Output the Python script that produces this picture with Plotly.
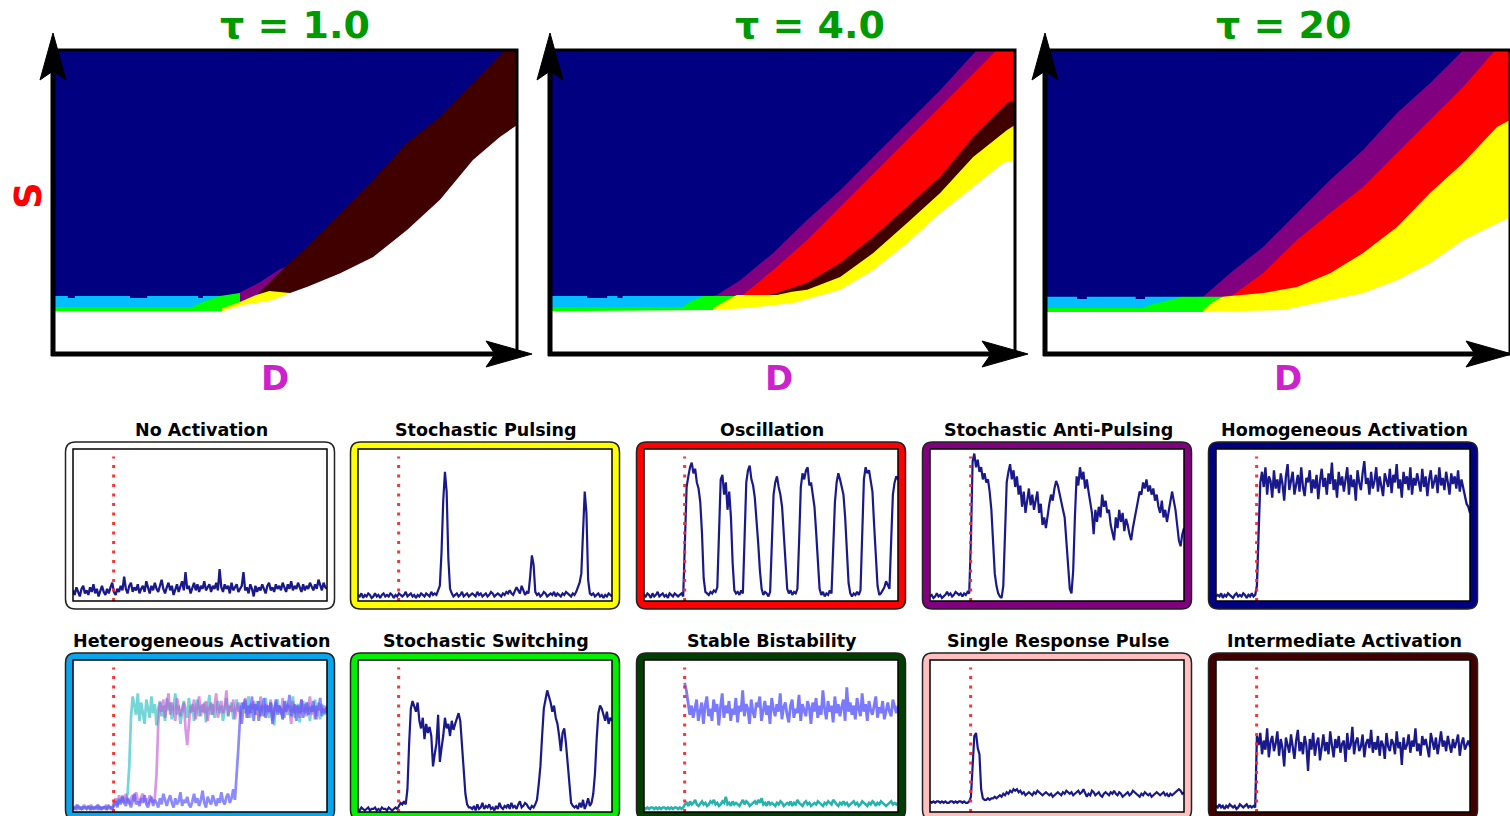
import plotly.graph_objects as go

W, H = 1510, 816

# ---------------------------------------------------------------------------
# Phase diagrams: upper boundary (D, S) of each behaviour region, both in %.
# Regions are painted top-down; everything above the first one is
# homogeneous activation (navy).
# ---------------------------------------------------------------------------
tau1_purple = [(39.5, 19.6), (42.0, 21.5), (44.5, 23.5), (47.0, 26.0), (49.0, 28.0), (50.0, 28.5)]
tau1_darkred = [(44.2, 20.0), (47.4, 24.8), (50.0, 28.5), (54.7, 35.2), (61.9, 46.4), (69.0, 57.2),
                (76.3, 69.4), (83.4, 78.0), (90.5, 89.1), (97.4, 100.0), (100.0, 100.0)]
tau1_cyan = [(0.0, 19.1), (3.2, 19.1), (3.2, 18.4), (4.7, 18.4), (4.7, 19.1), (16.6, 19.1), (16.6, 18.4),
             (20.3, 18.4), (20.3, 19.1), (31.3, 19.1), (31.3, 18.4), (32.3, 18.4), (32.3, 19.1), (36.0, 19.1)]
tau1_green = [(0.0, 15.5), (30.0, 15.5), (32.3, 17.1), (36.0, 19.1), (40.3, 20.1)]
tau1_yellow = [(36.4, 15.0), (40.3, 17.1), (43.8, 19.4), (46.6, 20.7), (51.1, 20.1)]
tau1_white = [(0.0, 14.1), (36.4, 14.1), (41.0, 16.1), (47.4, 17.8), (51.1, 20.1), (54.7, 22.0), (61.9, 26.6),
              (69.0, 31.9), (76.3, 40.8), (83.4, 50.7), (90.5, 63.8), (96.3, 71.4), (100.0, 75.3)]

tau4_purple = [(35.0, 19.1), (35.9, 19.4), (40.9, 24.3), (48.0, 33.2), (55.3, 44.1), (62.4, 53.9),
               (69.5, 64.8), (76.8, 76.0), (83.9, 86.8), (91.8, 100.0), (100.0, 100.0)]
tau4_red = [(41.5, 19.4), (48.0, 27.6), (55.3, 37.5), (62.4, 48.4), (69.5, 59.5), (76.8, 70.4),
            (83.9, 81.3), (91.0, 92.4), (96.1, 100.0), (100.0, 100.0)]
tau4_darkred = [(47.0, 19.4), (48.8, 20.1), (55.3, 23.4), (62.4, 29.9), (69.5, 38.5), (76.8, 48.4),
                (83.9, 58.2), (91.0, 71.4), (98.3, 82.6), (100.0, 83.6)]
tau4_cyan = [(0.0, 19.1), (8.0, 19.1), (8.0, 18.4), (12.3, 18.4), (12.3, 19.1), (14.5, 19.1), (14.5, 18.4),
             (15.6, 18.4), (15.6, 19.1), (33.0, 19.1)]
tau4_green = [(0.0, 15.5), (28.6, 15.5), (30.0, 17.1), (33.0, 19.1), (39.8, 19.1)]
tau4_yellow = [(35.1, 15.1), (38.1, 17.8), (40.2, 19.4), (48.8, 19.4), (52.0, 20.5), (55.3, 21.1),
               (62.4, 25.3), (69.5, 33.2), (76.8, 43.1), (83.9, 53.0), (91.0, 64.8), (98.3, 73.7), (100.0, 75.3)]
tau4_white = [(0.0, 14.1), (35.1, 14.5), (42.4, 15.1), (52.3, 16.8), (62.4, 21.1), (69.5, 27.6),
              (76.8, 36.5), (83.9, 46.4), (91.0, 54.9), (97.4, 62.8), (100.0, 63.8)]

tau20_purple = [(33.0, 18.8), (34.0, 18.8), (39.8, 26.6), (46.9, 35.2), (54.2, 46.4), (61.3, 57.2),
                (68.4, 67.1), (75.7, 79.3), (82.8, 89.1), (89.2, 99.0), (90.0, 100.0), (100.0, 100.0)]
tau20_red = [(38.3, 18.8), (40.4, 19.4), (46.9, 26.6), (54.2, 37.5), (61.3, 46.4), (68.4, 54.9),
             (75.7, 66.1), (82.8, 77.0), (89.9, 87.8), (96.3, 99.0), (97.0, 100.0), (100.0, 100.0)]
tau20_cyan = [(0.0, 18.8), (6.9, 18.8), (6.9, 18.1), (9.0, 18.1), (9.0, 18.8), (19.5, 18.8), (19.5, 18.1),
              (21.5, 18.1), (21.5, 18.8), (29.7, 18.8)]
tau20_green = [(0.0, 15.1), (21.0, 15.1), (22.6, 16.1), (26.9, 17.8), (29.7, 18.8), (38.3, 18.8)]
tau20_yellow = [(34.0, 14.5), (36.1, 17.1), (38.3, 18.8), (46.9, 20.1), (54.2, 22.0), (61.3, 26.6),
                (68.4, 33.2), (75.7, 41.8), (82.8, 53.0), (89.9, 62.8), (97.2, 74.7), (100.0, 77.0)]
tau20_white = [(0.0, 13.8), (34.0, 13.8), (51.2, 14.5), (61.3, 17.8), (68.4, 20.1), (75.7, 24.3),
               (82.8, 29.9), (89.9, 37.5), (95.7, 41.8), (100.0, 45.1)]

tau_labels = ["τ = 1.0", "τ = 4.0", "τ = 20"]

# ---------------------------------------------------------------------------
# Representative time courses (activity in %, time in % of the window).
# ---------------------------------------------------------------------------
STIM_T = 16

no_activation = [7, 4, 9, 6, 3, 8, 10, 5, 7, 4, 9, 6, 11, 5, 8, 3, 7, 10, 6, 4,
                 8, 5, 9, 12, 6, 4, 8, 6, 10, 7, 16, 8, 5, 10, 12, 6, 9, 7, 11, 5,
                 8, 10, 6, 13, 9, 5, 10, 7, 12, 8, 6, 11, 14, 8, 5, 9, 12, 7, 10, 4,
                 8, 11, 6, 9, 13, 7, 19, 8, 10, 5, 9, 12, 7, 11, 6, 10, 8, 13, 7, 9,
                 11, 6, 10, 8, 12, 7, 21, 9, 6, 11, 8, 10, 5, 12, 7, 9, 11, 6, 8, 10,
                 19, 7, 9, 5, 11, 8, 3, 10, 6, 9, 7, 11, 8, 5, 10, 12, 7, 9, 6, 11,
                 8, 10, 7, 12, 9, 6, 11, 8, 13, 7, 10, 8, 12, 9, 6, 11, 7, 10, 8, 12,
                 9, 7, 11, 8, 14, 10, 7, 12, 9, 8]

stochastic_pulsing = [4, 3, 5, 2, 4, 3, 5, 4, 2, 3, 5, 3, 4, 2, 4, 5, 3, 4, 3, 5,
                      4, 2, 4, 3, 5, 4, 3, 4, 6, 3, 4, 5, 3, 4, 2, 4, 3, 5, 4, 3,
                      5, 4, 3, 6, 4, 5, 4, 7,
                      10, 32, 66, 85, 72, 28, 8,
                      5, 3, 4, 5, 3, 4, 6, 3, 4, 5, 3, 4, 5, 4, 3, 6, 4, 5, 3, 4,
                      5, 3, 4, 6, 5, 3, 4, 5, 4, 3, 5, 4, 6, 5, 7, 5, 4, 6,
                      9, 7, 5, 10, 7, 4, 6, 5,
                      16, 30, 24, 6,
                      4, 5, 3, 4, 6, 5, 3, 4, 5, 4, 6, 3, 5, 4, 3, 5, 4, 6, 5, 4, 3, 5, 4, 6, 9,
                      12, 18, 45, 72, 58, 14, 5,
                      4, 5, 3, 4, 5, 3, 4, 2, 4, 3, 5, 4, 3]

oscillation = [4, 3, 5, 4, 2, 5, 3, 4, 6, 3, 4, 5, 3, 4, 2, 5, 4, 3, 5, 4, 3, 4, 5, 3,
               40, 75, 82, 88, 91, 84, 87, 78, 74, 65, 45, 15, 6,
               5, 4, 6, 5, 7, 6, 9,
               50, 80, 83, 70, 78, 60, 72, 55, 25, 7,
               5, 6, 4, 7, 5,
               45, 78, 86, 89, 80, 76, 68, 55, 38, 20, 8,
               4, 6, 5, 3, 6,
               35, 70, 78, 82, 75, 70, 62, 45, 25, 8,
               5, 7, 4, 6, 5, 8,
               40, 75, 84, 80, 86, 88, 76, 78, 70, 62, 45, 22, 8,
               4, 6, 3, 5, 4, 7, 5,
               30, 65, 78, 84, 80, 74, 70, 55, 32, 12,
               5, 3, 5, 4, 6, 4, 7,
               50, 80, 88, 84, 86, 80, 72, 50, 28, 10,
               4, 5, 7, 9, 13, 10, 8,
               40, 70, 78, 82, 80]

anti_pulsing = [3, 4, 2, 3, 5, 3, 4, 2, 3, 4, 6, 4, 5, 3, 4, 6, 5, 4, 5, 3, 5, 4, 6, 5,
                40, 92, 97, 88, 93, 85, 88, 80, 84, 78, 80, 72, 60, 35, 18, 10, 5, 3, 2, 10,
                50, 78, 85, 90, 80, 86, 75, 82,
                70, 76, 62, 72, 58, 68, 74, 63, 70, 60, 66, 72, 58, 64, 50, 55,
                48, 58, 64, 70, 66, 74, 79, 76, 70,
                66, 60, 55, 40, 20, 8, 5, 20, 55,
                82, 76, 88, 80, 85, 74, 80, 72,
                64, 58, 44, 60, 52, 62, 55,
                70, 62, 66, 58, 60, 50, 44,
                40, 55, 48, 60, 52, 58, 46, 54, 50, 44, 40,
                48, 55, 60, 66, 72, 70, 78, 74, 80, 72, 76, 70, 74, 66, 70,
                62, 58, 66, 55, 60, 52, 58, 64, 72, 66, 60,
                50, 40, 36, 44, 48]

homogeneous = [3, 4, 3, 5, 2, 4, 3, 5, 4, 3, 2, 4, 5, 3, 4, 3, 5, 4, 2, 4, 3, 5, 3, 4,
               10, 45, 78, 85,
               75, 88, 70, 82, 79, 68, 86, 74, 80, 71, 84, 77, 66, 82, 90, 73, 79, 85, 70, 76,
               83, 72, 88, 75, 69, 81, 78, 86, 71, 80, 74, 83, 67, 79, 87, 75, 81, 70, 84, 77,
               91, 73, 80, 68, 85, 76, 82, 72, 79, 88, 70, 83, 75, 80, 66, 86, 78, 73, 84, 92,
               77, 81, 70, 85, 74, 79, 88, 72, 82, 76, 69, 84, 80, 75, 87, 71, 83, 78, 90, 74,
               80, 68, 85, 77, 82, 73, 88, 70, 81, 76, 84, 79, 72, 87, 75, 82, 69, 80, 86, 74,
               79, 83, 71, 88, 76, 81, 73, 85, 78, 70, 84, 77, 82, 74, 86, 72, 80, 75, 68, 64,
               62, 58]

hetero_cell_a = [2, 3, 4, 2, 3, 2, 4, 3, 2, 3, 4, 2, 3, 3, 2, 4, 3, 2, 3, 4, 2, 3, 3, 2,
                 5, 8, 4, 9, 6, 11, 8, 7, 12,
                 30, 62, 76,
                 70, 64, 78, 60, 72, 66, 58, 74, 69, 62, 76, 65, 71, 57, 68, 73, 63, 70, 60, 75,
                 67, 72, 61, 69, 78, 64, 70, 58, 66, 73, 68, 62, 75, 65, 71, 60, 69, 74, 63, 70,
                 66, 72, 59, 68, 77, 64, 71, 62, 67, 73, 65, 70, 60, 68, 75, 63, 69, 72, 61, 67,
                 74, 66, 70, 58, 72, 65, 68, 76, 62, 69, 71, 64, 73, 60, 67, 70, 63, 75, 66, 62,
                 72, 68, 57, 70, 74, 65, 69, 61, 67, 73, 64, 70, 66, 76, 62, 68, 71, 59, 69, 73,
                 65, 67, 72, 60, 70, 66, 74, 63, 68, 61, 71, 66, 64, 69]

hetero_cell_b = [3, 2, 4, 3, 2, 3, 2, 4, 3, 3, 2, 4, 3, 2, 3, 4, 2, 3, 3, 2, 4, 3, 2, 3,
                 6, 9, 5, 11, 7, 10, 6, 12, 8, 5, 9, 11, 7, 13, 8, 6, 10, 12, 7, 9, 5, 11, 8, 6, 9,
                 25, 58, 72,
                 66, 74, 62, 70, 78, 64, 72, 68, 60, 75, 70, 63, 68, 72, 55, 44, 58, 70, 66, 74,
                 61, 69, 76, 63, 71, 65, 73, 60, 68, 72, 64, 70, 78, 62, 67, 73, 65, 69, 80, 63,
                 70, 66, 74, 61, 68, 72, 64, 58, 70, 75, 66, 62, 71, 68, 73, 64, 70, 60, 76, 67,
                 63, 71, 69, 65, 74, 60, 68, 72, 66, 70, 64, 75, 62, 69, 71, 67, 58, 73, 65, 70,
                 68, 62, 74, 66, 71, 63, 69, 76, 64, 70, 67, 61, 72, 68, 65, 70, 66, 69]

hetero_cell_c = [2, 3, 2, 4, 3, 2, 3, 3, 2, 4, 2, 3, 2, 3, 4, 2, 3, 2, 3, 3, 2, 4, 3, 2,
                 4, 7, 3, 8, 5, 10, 6, 4, 9, 7, 3, 8, 12, 5, 7, 4, 9, 6, 11, 5,
                 3, 7, 10, 4, 8, 6, 3, 9, 5, 12, 7, 4, 8, 11, 6, 3, 9, 5, 7, 13,
                 4, 8, 6, 10, 5, 3, 7, 12, 6, 9, 4, 8, 14, 6, 3, 10, 7, 5, 11, 8,
                 4, 9, 6, 13, 7, 5, 10, 12, 6, 9, 15, 8,
                 22, 42, 62, 72,
                 68, 74, 62, 70, 65, 76, 60, 71, 67, 73, 63, 69, 75, 62, 70, 66, 72, 58, 68, 74,
                 64, 70, 67, 61, 73, 66, 69, 77, 63, 68, 71, 60, 70, 65, 74, 62, 68, 72, 64, 69,
                 66, 73, 61, 70, 67, 75, 63, 68, 65, 70]

stochastic_switching = [2, 1, 3, 2, 1, 2, 3, 1, 2, 2, 3, 1, 2, 1, 3, 2, 2, 1, 3, 2, 1, 2, 3, 2,
                        4, 6, 5, 7, 5,
                        15, 45, 68, 73, 70,
                        66, 72, 60, 55, 62, 48, 58, 52, 56,
                        50, 30, 38, 45, 64, 33, 42, 50,
                        62, 55, 58, 50, 60, 54, 58, 62, 65,
                        60, 45, 28, 12, 5, 3,
                        3, 2, 4, 1, 5, 2, 3, 6, 2, 4, 3, 5, 2, 3, 1, 4, 2, 6, 3, 2,
                        4, 3, 5, 2, 6, 3, 4, 2, 5, 7, 3, 4, 6, 5, 3, 2, 4, 3, 5, 8,
                        18, 30, 50, 68, 74, 80, 76,
                        72, 66, 70, 62, 58, 50, 40, 52, 55,
                        45, 30, 15, 6, 4, 3,
                        4, 2, 6, 3, 8, 2, 5, 9, 4, 6,
                        12, 25, 48, 65, 70,
                        68, 64, 60, 66, 58, 62, 60]

# high branch only exists after the stimulus
bistable_high = [85, 80, 72, 64, 70, 62, 68, 74, 60, 66, 72, 58, 70, 76, 63, 68, 60, 74, 66, 71,
                 57, 69, 78, 62, 70, 65, 73, 60, 68, 64, 75, 59, 70, 66, 80, 63, 71, 68, 58, 74,
                 66, 62, 72, 69, 76, 60, 67, 73, 64, 70, 58, 75, 68, 63, 71, 66, 78, 61, 69, 72,
                 64, 59, 70, 74, 62, 68, 65, 77, 60, 71, 67, 63, 73, 69, 58, 72, 66, 75, 62, 70,
                 64, 80, 68, 61, 73, 66, 70, 59, 76, 65, 71, 63, 69, 74, 60, 82, 66, 72, 64, 70,
                 61, 75, 68, 63, 78, 66, 71, 60, 73, 67, 64, 70, 76, 62, 69, 65, 73, 61, 68, 72,
                 66, 63, 74, 69, 65, 70]

bistable_low = [3, 2, 3, 2, 3, 3, 2, 3, 2, 3, 2, 3, 3, 2, 3, 2, 3, 2, 3, 3, 2, 3, 2, 3,
                5, 6, 4, 7, 5, 6, 8, 5, 4, 6, 7, 5, 6, 4, 5, 7, 6, 8, 5, 6,
                4, 5, 7, 6, 10, 5, 6, 4, 7, 5, 6, 5, 4, 6, 8, 5, 7, 6, 4, 5,
                6, 7, 5, 8, 6, 9, 5, 6, 4, 7, 5, 6, 5, 4, 6, 5, 7, 6, 4, 5,
                6, 5, 7, 4, 6, 5, 8, 6, 5, 4, 6, 7, 5, 6, 4, 5, 6, 5, 7, 6,
                5, 4, 6, 5, 7, 6, 5, 8, 6, 5, 4, 6, 5, 7, 5, 6, 4, 5, 6, 7,
                5, 6, 4, 5, 7, 6, 5, 4, 6, 5, 7, 6, 4, 6, 5, 7, 6, 5, 4, 5,
                6, 7, 5, 6, 5, 6]

single_pulse = [7, 6, 7, 6, 7, 7, 6, 7, 6, 7, 6, 6, 7, 7, 6, 7, 6, 7, 7, 6, 7, 6, 6, 7,
                10, 35, 50, 52, 42, 38, 15, 9,
                8, 8, 9, 8, 9, 9, 10, 9, 10, 11, 10, 12, 11, 13, 12, 14, 13, 15, 14, 15,
                13, 14, 12, 13, 11, 12, 13, 12, 11, 13, 12, 14, 13, 12, 11, 12, 13, 12, 11, 12,
                10, 11, 12, 13, 12, 11, 13, 12, 14, 13, 12, 13, 11, 12, 13, 14, 12, 13, 15, 12,
                10, 12, 11, 14, 13, 11, 12, 13, 11, 10, 12, 13, 12, 11, 13, 12, 14, 12, 11, 13,
                12, 10, 11, 12, 13, 11, 12, 14, 13, 12, 11, 10, 12, 11, 13, 12, 11, 12, 10, 11,
                12, 13, 12, 11, 12, 13, 11, 12, 10, 12, 11, 12, 13, 14, 15, 14, 12, 13]

intermediate = [4, 3, 5, 3, 4, 2, 4, 3, 5, 4, 3, 4, 2, 3, 5, 4, 3, 4, 5, 3, 4, 3, 4, 3,
                50,
                44, 52, 38, 47, 41, 55, 36, 46, 50, 40, 45, 53, 37, 48, 42, 30, 49, 44, 39, 51,
                43, 35, 47, 54, 40, 46, 38, 50, 44, 27, 48, 41, 52, 37, 45, 49, 34, 43, 51, 40,
                46, 38, 53, 44, 36, 48, 42, 50, 39, 45, 47, 33, 52, 41, 44, 56, 38, 46, 49, 40,
                43, 51, 36, 45, 48, 42, 54, 39, 46, 41, 50, 37, 47, 44, 35, 52, 43, 40, 48, 45,
                38, 53, 42, 46, 31, 49, 41, 44, 51, 39, 47, 43, 55, 40, 45, 37, 50, 44, 48, 42,
                36, 52, 46, 41, 49, 38, 45, 53, 43, 47, 40, 50, 44, 39, 48, 42, 46, 51, 37, 45,
                49, 41, 44, 47, 43]

panel_titles = ["No Activation", "Stochastic Pulsing", "Oscillation", "Stochastic Anti-Pulsing",
                "Homogeneous Activation", "Heterogeneous Activation", "Stochastic Switching",
                "Stable Bistability", "Single Response Pulse", "Intermediate Activation"]

# ---------------------------------------------------------------------------
REGION_COLORS = {"navy": "#000080", "purple": "#800080", "red": "#ff0000", "darkred": "#400000",
                 "cyan": "#00bfff", "green": "#00ff00", "yellow": "#ffff00", "white": "#ffffff"}
FONT = "DejaVu Sans"


def fx(x):
    return x / W


def fy(y):
    return 1 - y / H


fig = go.Figure()
layout = {}
shapes = []
annotations = []


def add_axes(n, left, top, right, bottom):
    s = "" if n == 1 else str(n)
    layout["xaxis" + s] = dict(domain=[fx(left), fx(right)], range=[0, 100], visible=False,
                               anchor="y" + s, fixedrange=True)
    layout["yaxis" + s] = dict(domain=[fy(bottom), fy(top)], range=[0, 100], visible=False,
                               anchor="x" + s, fixedrange=True)
    return "x" + s, "y" + s


def poly(points):
    return "M " + " L ".join(f"{fx(x)},{fy(y)}" for x, y in points) + " Z"


def rounded(left, top, right, bottom, r):
    pts = [
        f"M {fx(left + r)},{fy(top)}",
        f"L {fx(right - r)},{fy(top)}",
        f"Q {fx(right)},{fy(top)} {fx(right)},{fy(top + r)}",
        f"L {fx(right)},{fy(bottom - r)}",
        f"Q {fx(right)},{fy(bottom)} {fx(right - r)},{fy(bottom)}",
        f"L {fx(left + r)},{fy(bottom)}",
        f"Q {fx(left)},{fy(bottom)} {fx(left)},{fy(bottom - r)}",
        f"L {fx(left)},{fy(top + r)}",
        f"Q {fx(left)},{fy(top)} {fx(left + r)},{fy(top)}",
        "Z",
    ]
    return " ".join(pts)


# ---------------------------- phase diagrams ------------------------------
phase_regions = [
    [("purple", tau1_purple), ("darkred", tau1_darkred), ("cyan", tau1_cyan),
     ("green", tau1_green), ("yellow", tau1_yellow), ("white", tau1_white)],
    [("purple", tau4_purple), ("red", tau4_red), ("darkred", tau4_darkred), ("cyan", tau4_cyan),
     ("green", tau4_green), ("yellow", tau4_yellow), ("white", tau4_white)],
    [("purple", tau20_purple), ("red", tau20_red), ("cyan", tau20_cyan),
     ("green", tau20_green), ("yellow", tau20_yellow), ("white", tau20_white)],
]
# (left, top, right, bottom, arrow tip x, title x, D-label x)
phase_boxes = [(53, 50, 517, 354, 532, 295, 275),
               (550, 50, 1015, 354, 1028, 810, 779),
               (1045, 50, 1510, 354, 1512, 1283, 1288)]

for k, (regions, box, title) in enumerate(zip(phase_regions, phase_boxes, tau_labels)):
    L, T, R, B, tipx, tx, dx = box
    xa, ya = add_axes(k + 1, L, T, R, B)
    shapes.append(dict(type="rect", xref=xa + " domain", yref=ya + " domain", x0=0, x1=1, y0=0, y1=1,
                       fillcolor=REGION_COLORS["navy"], line=dict(width=0), layer="below"))
    for name, pts in regions:
        c = REGION_COLORS[name]
        fig.add_trace(go.Scatter(x=[p[0] for p in pts], y=[p[1] for p in pts], mode="lines",
                                 line=dict(width=0, color=c), fill="tozeroy", fillcolor=c,
                                 xaxis=xa, yaxis=ya, hoverinfo="skip", showlegend=False))
    # frame
    shapes.append(dict(type="rect", xref="paper", yref="paper", x0=fx(L), x1=fx(R), y0=fy(B), y1=fy(T),
                       line=dict(color="black", width=3), fillcolor="rgba(0,0,0,0)", layer="above"))
    # axis arrows
    shapes.append(dict(type="line", xref="paper", yref="paper", x0=fx(L), x1=fx(L), y0=fy(B + 2), y1=fy(60),
                       line=dict(color="black", width=5), layer="above"))
    shapes.append(dict(type="line", xref="paper", yref="paper", x0=fx(L - 2), x1=fx(tipx - 30), y0=fy(B), y1=fy(B),
                       line=dict(color="black", width=5), layer="above"))
    shapes.append(dict(type="path", xref="paper", yref="paper",
                       path=poly([(L, 33), (L - 13, 80), (L, 71), (L + 13, 80)]),
                       fillcolor="black", line=dict(color="black", width=1), layer="above"))
    shapes.append(dict(type="path", xref="paper", yref="paper",
                       path=poly([(tipx, B), (tipx - 46, B - 13), (tipx - 37, B), (tipx - 46, B + 13)]),
                       fillcolor="black", line=dict(color="black", width=1), layer="above"))
    annotations.append(dict(x=fx(tx), y=fy(25), xref="paper", yref="paper", text=f"<b>{title}</b>",
                            showarrow=False, xanchor="center", yanchor="middle",
                            font=dict(family=FONT, size=38, color="#009900")))
    annotations.append(dict(x=fx(dx), y=fy(378), xref="paper", yref="paper", text="<b>D</b>",
                            showarrow=False, xanchor="center", yanchor="middle",
                            font=dict(family=FONT, size=34, color="#cc22cc")))

annotations.append(dict(x=fx(28), y=fy(196), xref="paper", yref="paper", text="<b>S</b>", textangle=-90,
                        showarrow=False, xanchor="center", yanchor="middle",
                        font=dict(family=FONT, size=37, color="#ff0000")))

# ---------------------------- time courses ---------------------------------
NAVY = "rgba(0,0,128,0.9)"
panel_traces = [
    [(no_activation, NAVY, 0, 2.3)],
    [(stochastic_pulsing, NAVY, 0, 2.2)],
    [(oscillation, NAVY, 0, 2.2)],
    [(anti_pulsing, NAVY, 0, 2.2)],
    [(homogeneous, NAVY, 0, 2.3)],
    [(hetero_cell_a, "rgba(70,200,200,0.75)", 0, 2.7), (hetero_cell_b, "rgba(190,80,210,0.6)", 0, 2.7),
     (hetero_cell_c, "rgba(90,90,255,0.7)", 0, 2.7)],
    [(stochastic_switching, NAVY, 0, 2.2)],
    [(bistable_high, "rgba(115,115,255,0.95)", STIM_T, 2.8), (bistable_low, "rgba(25,175,170,0.95)", 0, 2.6)],
    [(single_pulse, NAVY, 0, 2.2)],
    [(intermediate, NAVY, 0, 2.3)],
]
border_colors = ["#ffffff", "#ffff00", "#ff0000", "#800080", "#000080",
                 "#0aa6ec", "#00f000", "#023d02", "#ffbfbf", "#400000"]

col_left = [73, 358, 644, 930, 1216]
row_top = [449, 660]
INNER_W, INNER_H = 254, 152

for idx, (title, traces, bcol) in enumerate(zip(panel_titles, panel_traces, border_colors)):
    r, c = divmod(idx, 5)
    L = col_left[c]
    T = row_top[r]
    R = L + INNER_W
    B = T + INNER_H
    xa, ya = add_axes(4 + idx, L, T, R, B)
    shapes.append(dict(type="path", xref="paper", yref="paper", path=rounded(L - 7.5, T - 7, R + 7.5, B + 8, 10),
                       fillcolor=bcol, line=dict(color="#222222", width=1.5), layer="below"))
    shapes.append(dict(type="rect", xref=xa + " domain", yref=ya + " domain", x0=0, x1=1, y0=0, y1=1,
                       fillcolor="white", line=dict(width=0), layer="below"))
    for vals, color, t0, lw in traces:
        n = len(vals)
        t = [t0 + (100 - t0) * k / (n - 1) for k in range(n)]
        fig.add_trace(go.Scatter(x=t, y=vals, mode="lines", line=dict(color=color, width=lw),
                                 xaxis=xa, yaxis=ya, hoverinfo="skip", showlegend=False))
    shapes.append(dict(type="line", xref=xa, yref=ya + " domain", x0=STIM_T, x1=STIM_T, y0=0.0, y1=0.95,
                       line=dict(color="rgba(255,40,40,0.95)", width=3, dash="3px,6.5px"), layer="above"))
    shapes.append(dict(type="rect", xref=xa + " domain", yref=ya + " domain", x0=0, x1=1, y0=0, y1=1,
                       line=dict(color="black", width=1.5), fillcolor="rgba(0,0,0,0)", layer="above"))
    annotations.append(dict(x=fx((L + R) / 2 + 1), y=fy(T - 19), xref="paper", yref="paper",
                            text=f"<b>{title}</b>", showarrow=False, xanchor="center", yanchor="middle",
                            font=dict(family=FONT, size=17.5, color="black")))

fig.update_layout(
    width=W, height=H, margin=dict(l=0, r=0, t=0, b=0),
    paper_bgcolor="white", plot_bgcolor="white", showlegend=False,
    shapes=shapes, annotations=annotations, **layout,
)

fig.write_html("out.html")
